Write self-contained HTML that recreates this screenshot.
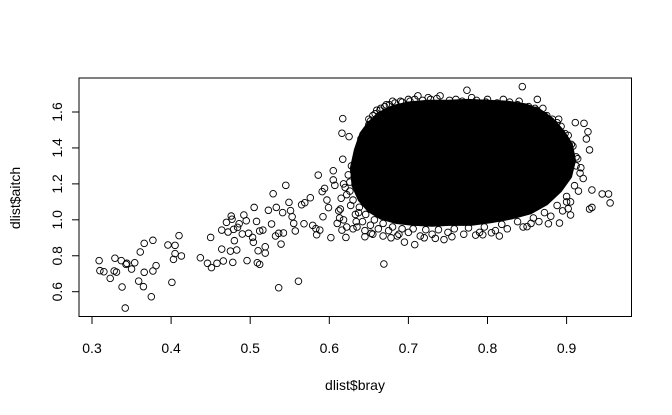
<!DOCTYPE html>
<html><head><meta charset="utf-8">
<style>
html,body{margin:0;padding:0;background:#fff;}
svg{display:block;font-family:"Liberation Sans",Arial,sans-serif;}
</style></head>
<body>
<svg id="chart" width="672" height="415" viewBox="0 0 672 415">
<rect x="79" y="78" width="552.5" height="238.5" fill="none" stroke="#000" stroke-width="1"/>
<g id="marks"></g>
<g id="xaxis"></g>
<g id="yaxis"></g>
<text x="355" y="390" font-size="14" text-anchor="middle">dlist$bray</text>
<text transform="translate(20,198) rotate(-90)" font-size="14" text-anchor="middle">dlist$aitch</text>
</svg>
<script>
const xTicks = [0.3, 0.4, 0.5, 0.6, 0.7, 0.8, 0.9];
const xTickLabels = ["0.3","0.4","0.5","0.6","0.7","0.8","0.9"];
const yTicks = [0.6, 0.8, 1.0, 1.2, 1.4, 1.6];
const yTickLabels = ["0.6","0.8","1.0","1.2","1.4","1.6"];
const brayVals = [0.309,0.310,0.315,0.323,0.329,0.328,0.331,0.337,0.338,0.342,0.343,0.344,0.350,0.354,0.359,0.361,0.366,0.366,0.365,0.375,0.377,0.377,0.381,0.396,0.401,0.403,0.405,0.405,0.410,0.413,0.437,0.446,0.451,0.450,0.458,0.464,0.464,0.466,0.470,0.472,0.475,0.476,0.477,0.478,0.479,0.480,0.483,0.484,0.486,0.490,0.492,0.495,0.496,0.498,0.503,0.504,0.505,0.508,0.509,0.510,0.512,0.512,0.516,0.519,0.519,0.523,0.527,0.529,0.532,0.533,0.536,0.536,0.539,0.541,0.542,0.545,0.549,0.551,0.553,0.555,0.557,0.561,0.565,0.568,0.569,0.576,0.579,0.583,0.584,0.586,0.588,0.591,0.594,0.592,0.597,0.599,0.602,0.605,0.605,0.607,
0.669,0.774,0.844,0.617,0.863,0.708,0.695,0.877,0.891,0.955,0.953,0.945,0.932,0.929,0.905,0.902,0.922,0.911,0.927,0.929,0.932,0.850,0.805,0.794,0.785,0.755,0.734,0.645,0.653,0.621,0.616,0.625,0.617,0.616];
const aitchVals = [0.773,0.717,0.711,0.674,0.786,0.715,0.709,0.773,0.626,0.509,0.752,0.758,0.726,0.761,0.659,0.821,0.708,0.869,0.628,0.572,0.886,0.715,0.745,0.860,0.652,0.780,0.858,0.812,0.912,0.799,0.789,0.758,0.734,0.902,0.758,0.943,0.837,0.771,0.986,0.932,0.826,1.021,1.003,0.763,0.947,0.884,0.832,0.958,0.978,0.921,1.027,0.995,0.773,0.925,0.902,0.875,1.069,0.991,0.761,0.828,0.752,0.938,0.943,0.850,0.815,1.053,0.977,1.145,0.910,1.069,0.622,0.925,0.865,1.040,0.927,1.192,1.097,1.051,1.017,0.980,0.938,0.658,1.084,0.978,1.095,1.123,0.969,0.951,0.917,1.249,0.943,1.157,1.175,1.017,1.110,1.068,0.901,1.273,1.222,1.192,
0.754,1.721,1.741,1.563,1.670,0.862,0.876,0.978,0.982,1.094,1.144,1.144,1.069,1.060,1.027,1.062,1.537,1.541,1.490,1.389,1.166,0.962,0.928,0.917,0.915,0.906,0.897,0.906,0.925,0.902,0.943,1.463,1.337,1.482];
const haloBray = [0.612,0.615,0.620,0.624,0.628,0.610,0.613,0.618,0.622,0.630,0.634,0.637,0.640,0.643,0.646,0.650,0.655,0.660,0.665,0.672,0.680,0.690,0.700,0.712,0.725,0.740,0.760,0.780,0.800,0.820,0.840,0.860,0.875,0.888,0.898,0.906,0.912,0.918,0.921,0.915,0.905,0.895,0.880,0.865,0.845,0.825,0.810,0.790,0.770,0.750,0.730,0.715,0.700,0.688,0.675,0.662,0.652,0.642,0.633,0.627,0.622,0.618,0.614,0.635,0.645,0.655,0.668,0.678,0.686,0.640,0.650,0.720,0.745,0.815,0.855,0.900,0.912,0.925,0.890,0.870,
0.626,0.631,0.636,0.641,0.647,0.652,0.658,0.664,0.670,0.676,0.683,0.692,0.702,0.708,0.718,0.728,0.736,0.752,0.768,0.786,0.798,0.812,0.828,0.838,0.852,0.862,0.872,0.882,0.893,0.902,0.908,0.914,0.917,0.910,0.900,0.888,0.872,0.858,0.838,0.818,0.796,0.776,0.758,0.738,0.722,0.706,0.692,0.680,0.668,0.657,0.646,0.638,0.630,0.626];
const haloAitch = [1.050,1.120,1.180,1.250,1.300,0.980,1.010,1.000,0.960,0.950,0.990,1.040,1.330,1.400,1.470,1.530,1.580,1.610,1.620,1.640,1.660,1.660,1.670,1.690,1.680,1.690,1.670,1.680,1.670,1.670,1.660,1.620,1.580,1.540,1.480,1.420,1.350,1.290,1.230,1.160,1.100,1.050,1.020,0.990,0.960,0.950,0.940,0.930,0.920,0.930,0.920,0.910,0.930,0.920,0.940,0.950,0.970,0.990,1.030,1.080,1.140,1.200,1.060,0.960,0.940,0.920,0.910,0.900,0.910,1.450,1.560,0.900,0.890,0.910,0.980,1.100,1.300,1.450,1.560,1.620,
1.160,1.270,1.360,1.420,1.500,1.550,1.590,1.610,1.630,1.640,1.650,1.655,1.660,1.670,1.665,1.670,1.675,1.665,1.660,1.665,1.655,1.650,1.655,1.640,1.630,1.610,1.580,1.560,1.520,1.470,1.410,1.340,1.260,1.190,1.130,1.080,1.040,1.010,0.990,0.975,0.960,0.955,0.950,0.945,0.945,0.950,0.950,0.960,0.980,1.000,1.030,1.070,1.110,1.210];
const coreBray = [0.640,0.650,0.662,0.680,0.700,0.725,0.750,0.775,0.800,0.825,0.848,0.866,0.882,0.896,0.906,0.910,0.905,0.892,0.875,0.855,0.830,0.805,0.780,0.755,0.730,0.705,0.685,0.665,0.650,0.638,0.630,0.628,0.633];
const coreAitch = [1.480,1.540,1.590,1.630,1.650,1.660,1.660,1.665,1.660,1.655,1.640,1.610,1.560,1.490,1.420,1.330,1.240,1.160,1.090,1.040,1.010,0.990,0.975,0.975,0.970,0.975,0.985,1.010,1.050,1.110,1.190,1.290,1.390];

const NS = "http://www.w3.org/2000/svg";
function sx(v){ return 92 + (v - 0.3) * 791; }
function sy(v){ return 291.7 - (v - 0.6) * 179.7; }

const marks = document.getElementById('marks');
const core = document.createElementNS(NS,'polygon');
core.setAttribute('points', coreBray.map((b,i)=>sx(b)+','+sy(coreAitch[i])).join(' '));
core.setAttribute('fill','#000');
core.setAttribute('stroke','#000');
core.setAttribute('stroke-width','3');
core.setAttribute('stroke-linejoin','round');


marks.appendChild(core);

function addPoint(b, a){
  const c = document.createElementNS(NS,'circle');
  c.setAttribute('cx', sx(b));
  c.setAttribute('cy', sy(a));
  c.setAttribute('r', 3.3);
  c.setAttribute('fill','none');
  c.setAttribute('stroke','#000');
  c.setAttribute('stroke-width','0.9');
  
  
  marks.appendChild(c);
}
brayVals.forEach((b,i)=>addPoint(b, aitchVals[i]));
haloBray.forEach((b,i)=>addPoint(b, haloAitch[i]));

const xa = document.getElementById('xaxis');
const xl = document.createElementNS(NS,'line');
xl.setAttribute('x1', sx(xTicks[0])); xl.setAttribute('x2', sx(xTicks[xTicks.length-1]));
xl.setAttribute('y1', 316.5); xl.setAttribute('y2', 316.5);
xl.setAttribute('stroke','#000');


xa.appendChild(xl);
xTicks.forEach((t,i)=>{
  const l = document.createElementNS(NS,'line');
  l.setAttribute('x1', sx(t)); l.setAttribute('x2', sx(t));
  l.setAttribute('y1', 316.5); l.setAttribute('y2', 324);
  l.setAttribute('stroke','#000');
  
  
  xa.appendChild(l);
  const tx = document.createElementNS(NS,'text');
  tx.setAttribute('x', sx(t)); tx.setAttribute('y', 353);
  tx.setAttribute('font-size','14'); tx.setAttribute('text-anchor','middle');
  tx.textContent = xTickLabels[i];
  
  
  xa.appendChild(tx);
});
const ya = document.getElementById('yaxis');
const yl = document.createElementNS(NS,'line');
yl.setAttribute('x1', 79); yl.setAttribute('x2', 79);
yl.setAttribute('y1', sy(yTicks[0])); yl.setAttribute('y2', sy(yTicks[yTicks.length-1]));
yl.setAttribute('stroke','#000');


ya.appendChild(yl);
yTicks.forEach((t,i)=>{
  const l = document.createElementNS(NS,'line');
  l.setAttribute('x1', 72); l.setAttribute('x2', 79);
  l.setAttribute('y1', sy(t)); l.setAttribute('y2', sy(t));
  l.setAttribute('stroke','#000');
  
  
  ya.appendChild(l);
  const tx = document.createElementNS(NS,'text');
  tx.setAttribute('transform', 'translate(62,' + sy(t) + ') rotate(-90)');
  tx.setAttribute('font-size','14'); tx.setAttribute('text-anchor','middle');
  tx.textContent = yTickLabels[i];
  
  
  ya.appendChild(tx);
});
</script>
</body></html>
